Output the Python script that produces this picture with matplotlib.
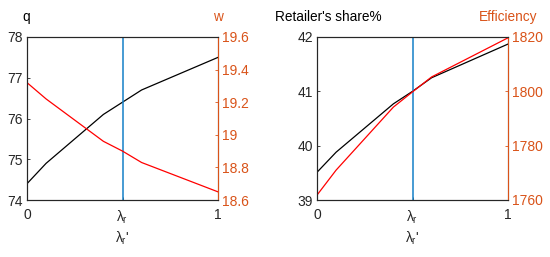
import matplotlib
matplotlib.use("Agg")
import matplotlib.pyplot as plt

plt.rcParams['font.family'] = ['Liberation Sans', 'DejaVu Sans']
plt.rcParams['mathtext.fontset'] = 'custom'
plt.rcParams['mathtext.rm'] = 'Liberation Sans'
plt.rcParams['mathtext.it'] = 'Liberation Sans'

# data
lam = [0, 0.1, 0.4, 0.5, 0.6, 1.0]
q_vals = [74.4, 74.9, 76.1, 76.4, 76.7, 77.5]
w_vals = [19.32, 19.22, 18.96, 18.90, 18.83, 18.65]
share_vals = [39.51, 39.88, 40.77, 41.0, 41.25, 41.87]
eff_vals = [1761.8, 1771.0, 1794.2, 1799.8, 1805.3, 1819.7]

xtick_pos = [0, 0.5, 1]
xtick_labels = ['0', r'$\lambda_r$', '1']

orange = '#D95319'
blue = '#1580C8'
dark = '#262626'
fs = 10

W, H = 550, 257


def panel(rect, x, left, right, lylim, rylim, lticks, rticks, rlabels):
    ax = fig.add_axes(rect)
    ax.plot(x, left, color='black', lw=0.9)
    ax.axvline(0.5, color=blue, lw=1.1)
    ax.set_xlim(0, 1)
    ax.set_ylim(*lylim)
    ax.set_yticks(lticks)
    ax.set_xticks(xtick_pos)
    ax.set_xticklabels(xtick_labels)
    ax.tick_params(direction='in', length=2.5, width=0.6, labelsize=fs, colors=dark)
    ax.tick_params(axis='y', pad=3)
    ax.tick_params(axis='x', pad=6)
    for s in ax.spines.values():
        s.set_color(dark)
        s.set_linewidth(0.8)
    ax.set_xlabel(r"$\lambda_r$'", fontsize=fs, color=dark, labelpad=3)

    ax2 = ax.twinx()
    ax2.plot(x, right, color='red', lw=0.9)
    ax2.set_ylim(*rylim)
    ax2.set_yticks(rticks)
    ax2.set_yticklabels(rlabels)
    ax2.tick_params(direction='in', length=2.5, width=0.6, labelsize=fs, colors=orange, pad=3)
    ax2.spines['right'].set_color(orange)
    ax2.spines['right'].set_linewidth(0.8)
    ax2.spines['top'].set_color(dark)
    ax2.spines['left'].set_color(dark)
    ax2.spines['bottom'].set_color(dark)
    return ax, ax2


fig = plt.figure(figsize=(W / 100, H / 100), dpi=100)

# axes rects in figure fractions (x0, y0, w, h)
panel([27 / W, 57 / H, 191 / W, 163 / H], lam, q_vals, w_vals,
      (74, 78), (18.6, 19.6), [74, 75, 76, 77, 78],
      [18.6, 18.8, 19.0, 19.2, 19.4, 19.6],
      ['18.6', '18.8', '19', '19.2', '19.4', '19.6'])
panel([317 / W, 57 / H, 191 / W, 163 / H], lam, share_vals, eff_vals,
      (39, 42), (1760, 1820), [39, 40, 41, 42],
      [1760, 1780, 1800, 1820],
      ['1760', '1780', '1800', '1820'])

# axis names placed above the plots, as in the reference
titles = [("q", 26.5, 'black'), ("w", 218, orange),
          ("Retailer's share%", 328, 'black'), ("Efficiency", 508, orange)]
for txt, xc, col in titles:
    fig.text(xc / W, 1 - 21 / H, txt, ha='center', va='baseline',
             fontsize=9.8, color=col)

fig.savefig('out.png', dpi=100, facecolor='white')
